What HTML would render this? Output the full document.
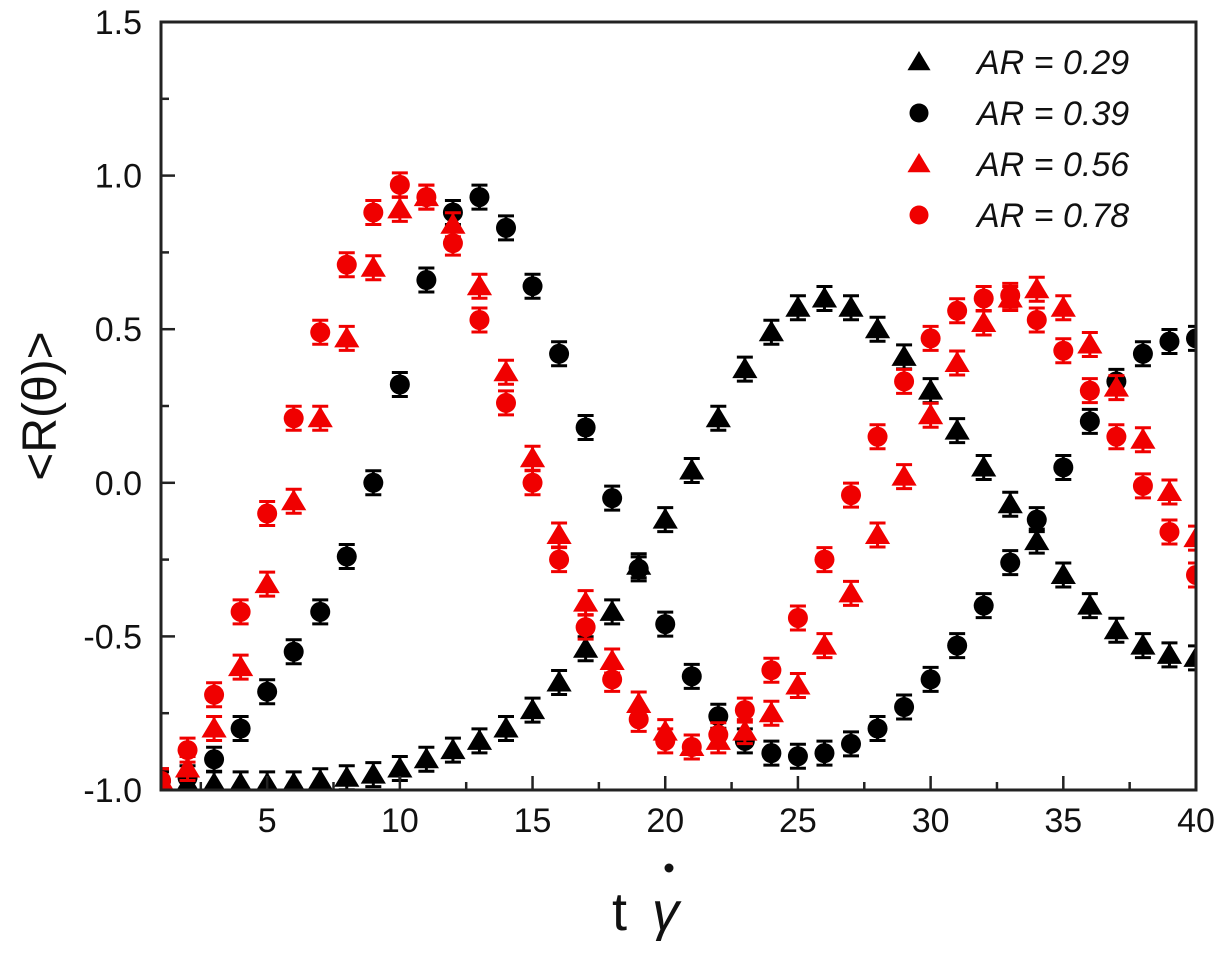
<!DOCTYPE html>
<html><head><meta charset="utf-8"><style>
html,body{margin:0;padding:0;background:#fff;}
svg{display:block;font-family:"Liberation Sans",Arial,sans-serif;}
</style></head><body>
<svg id="chart" width="1228" height="964" viewBox="0 0 1228 964">
<defs><clipPath id="pc"><rect x="161" y="22" width="1035" height="768"/></clipPath></defs>
<g id="marks" clip-path="url(#pc)"></g>
<g id="axes"></g>
<rect x="161" y="22" width="1035" height="768" fill="none" stroke="#222" stroke-width="3"/>
<text x="0" y="0" transform="translate(56,406) rotate(-90)" text-anchor="middle" font-size="48" fill="#111">&lt;R(θ)&gt;</text>
<g>
<text x="612" y="930" font-size="54" fill="#111">t</text>
<text x="652" y="930" font-size="54" font-style="italic" fill="#111">γ</text>
<circle cx="669" cy="868" r="4.5" fill="#111"/>
</g>
<g id="legend"></g>
</svg>
<script>
const tVals=[1,2,3,4,5,6,7,8,9,10,11,12,13,14,15,16,17,18,19,20,21,22,23,24,25,26,27,28,29,30,31,32,33,34,35,36,37,38,39,40];
const ar029=[-0.98,-0.98,-0.98,-0.98,-0.98,-0.98,-0.97,-0.96,-0.95,-0.93,-0.9,-0.87,-0.84,-0.8,-0.74,-0.65,-0.54,-0.42,-0.27,-0.12,0.04,0.21,0.37,0.49,0.57,0.6,0.57,0.5,0.41,0.3,0.17,0.05,-0.07,-0.19,-0.3,-0.4,-0.48,-0.53,-0.56,-0.57];
const ar039=[-0.97,-0.96,-0.9,-0.8,-0.68,-0.55,-0.42,-0.24,0.0,0.32,0.66,0.88,0.93,0.83,0.64,0.42,0.18,-0.05,-0.28,-0.46,-0.63,-0.76,-0.84,-0.88,-0.89,-0.88,-0.85,-0.8,-0.73,-0.64,-0.53,-0.4,-0.26,-0.12,0.05,0.2,0.33,0.42,0.46,0.47];
const ar056=[-0.97,-0.93,-0.8,-0.6,-0.33,-0.06,0.21,0.47,0.7,0.89,0.93,0.84,0.64,0.36,0.08,-0.17,-0.39,-0.58,-0.72,-0.81,-0.86,-0.84,-0.81,-0.75,-0.66,-0.53,-0.36,-0.17,0.02,0.22,0.39,0.52,0.6,0.63,0.57,0.45,0.31,0.14,-0.03,-0.18];
const ar078=[-0.97,-0.87,-0.69,-0.42,-0.1,0.21,0.49,0.71,0.88,0.97,0.93,0.78,0.53,0.26,0.0,-0.25,-0.47,-0.64,-0.77,-0.84,-0.86,-0.82,-0.74,-0.61,-0.44,-0.25,-0.04,0.15,0.33,0.47,0.56,0.6,0.61,0.53,0.43,0.3,0.15,-0.01,-0.16,-0.3];
const xTicks=[5,10,15,20,25,30,35,40];
const yTicks=[-1.0,-0.5,0.0,0.5,1.0,1.5];
const legendLabels=["AR = 0.29","AR = 0.39","AR = 0.56","AR = 0.78"];

const NS="http://www.w3.org/2000/svg";
const X0=161,X1=1196,Y0=790,Y1=22;
function xs(t){return X0+(t-1)/(40-1)*(X1-X0);}
function ys(v){return Y0-(v+1)/(2.5)*(Y0-Y1);}
function mk(tag,at,parent){const e=document.createElementNS(NS,tag);for(const k in at)e.setAttribute(k,at[k]);parent.appendChild(e);return e;}
const marks=document.getElementById('marks'),axes=document.getElementById('axes'),legend=document.getElementById('legend');

function tri(cx,cy,s){return `${cx},${cy-s} ${cx-s*1.05},${cy+s*0.75} ${cx+s*1.05},${cy+s*0.75}`;}
const series=[{d:ar029,c:"#000",shape:"tri",n:"ar-0-29"},{d:ar039,c:"#000",shape:"circ",n:"ar-0-39"},{d:ar056,c:"#f00000",shape:"tri",n:"ar-0-56"},{d:ar078,c:"#f00000",shape:"circ",n:"ar-0-78"}];
series.forEach(s=>{
  const g=mk('g',{},marks);
  
  
  s.d.forEach((v,i)=>{
    const cx=xs(tVals[i]),cy=ys(v),e=12;
    const eb=mk('path',{d:`M${cx-8},${cy-e}H${cx+8}M${cx},${cy-e}V${cy+e}M${cx-8},${cy+e}H${cx+8}`,stroke:s.c,'stroke-width':3,fill:'none'},g);
    
    
    let m;
    if(s.shape==="tri") m=mk('polygon',{points:tri(cx,cy,12),fill:s.c},g);
    else m=mk('circle',{cx:cx,cy:cy,r:10,fill:s.c},g);
    
    
  });
});
for(let t=2.5;t<=40;t+=2.5){
  const x=xs(t),L=(t%5===0)?14:8;
  mk('line',{x1:x,x2:x,y1:Y0,y2:Y0-L,stroke:'#222','stroke-width':2.5},axes);
}
xTicks.forEach(t=>{
  const tx=mk('text',{x:xs(t),y:832,'text-anchor':'middle','font-size':34,fill:'#111'},axes);
  tx.textContent=t;
  
  
});
for(let k=0;k<=10;k++){
  const v=-1+k*0.25,y=ys(v),L=(k%2===0)?14:8;
  mk('line',{x1:X0,x2:X0+L,y1:y,y2:y,stroke:'#222','stroke-width':2.5},axes);
}
yTicks.forEach(v=>{
  const tx=mk('text',{x:142,y:ys(v)+12,'text-anchor':'end','font-size':34,fill:'#111'},axes);
  tx.textContent=v.toFixed(1);
  
  
});
legendLabels.forEach((lab,i)=>{
  const y=62+i*51,s=series[i];
  const g=mk('g',{},legend);
  
  
  if(s.shape==="tri") mk('polygon',{points:tri(919,y,11),fill:s.c},g);
  else mk('circle',{cx:919,cy:y,r:9.5,fill:s.c},g);
  const tx=mk('text',{x:977,y:y+12,'font-size':34,'font-style':'italic',fill:'#111'},g);
  tx.textContent=lab;
});
</script>
</body></html>
